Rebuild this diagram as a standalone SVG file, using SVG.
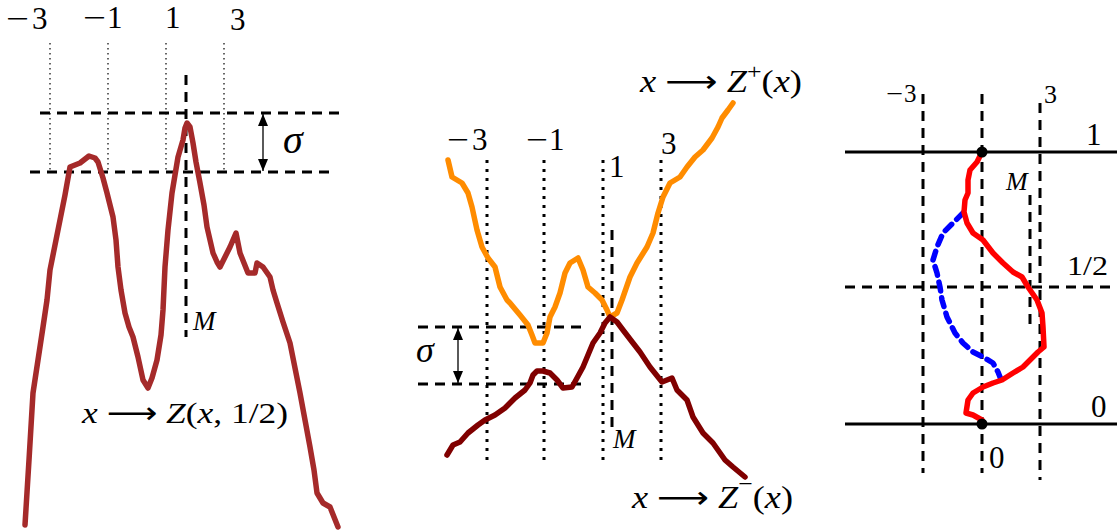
<svg xmlns="http://www.w3.org/2000/svg" width="1119" height="531" viewBox="0 0 1119 531">
<style>
text{font-family:"Liberation Serif","DejaVu Serif",serif;fill:#000}
.it{font-style:italic}
.ar{font-family:"DejaVu Sans",sans-serif}
.dash{stroke:#000;stroke-width:3;fill:none;stroke-dasharray:10 7}
.thindot{stroke:#000;stroke-width:1.2;fill:none;stroke-dasharray:1.5 3.5}
.dot{stroke:#000;stroke-width:3;fill:none;stroke-dasharray:3 6}
.solid{stroke:#000;stroke-width:3;fill:none}
.curve{fill:none;stroke-width:5.5;stroke-linejoin:round;stroke-linecap:round}
.arr{stroke:#000;stroke-width:1.3;fill:none;marker-start:url(#ah);marker-end:url(#ah)}
</style>
<defs>
<marker id="ah" viewBox="0 0 12 10" refX="12" refY="5" markerWidth="12" markerHeight="10" markerUnits="userSpaceOnUse" orient="auto-start-reverse">
<path d="M0,0 L12,5 L0,10 Z" fill="#000"/>
</marker>
</defs>

<g id="left-panel">
<line class="thindot" x1="50" y1="43" x2="50" y2="172"/>
<line class="thindot" x1="108" y1="43" x2="108" y2="172"/>
<line class="thindot" x1="166" y1="43" x2="166" y2="172"/>
<line class="thindot" x1="224" y1="43" x2="224" y2="172"/>
<line class="dash" x1="40" y1="113" x2="340" y2="113"/>
<line class="dash" x1="30" y1="172" x2="332" y2="172"/>
<line class="dash" x1="186" y1="75" x2="186" y2="337"/>
<polyline class="curve" stroke="#a52a2a" points="25,525 29,460 33,393 38,360 43,327 47,300 50,270 55,245 60,220 65,195 70,167 80,163 89,156 95,158 98,162 103,178 107,193 113,217 116,240 118,267 121,290 125,313 129,327 133,337 138,357 143,380 148,388 152,378 157,360 161,335 163,310 165,267 168,230 172,193 178,157 183,140 185,128 187,123 190,127 193,143 196,162 200,183 204,205 207,227 213,253 217,262 220,267 225,257 230,247 236,233 240,253 244,263 248,273 255,273 257,263 263,267 270,277 273,290 277,303 283,322 290,343 295,368 300,393 305,420 310,447 314,470 317,493 323,503 330,507 338,527"/>
<text x="6" y="29" font-size="31" textLength="23" lengthAdjust="spacingAndGlyphs">−</text>
<text x="32" y="29" font-size="31">3</text>
<text x="83" y="28" font-size="31" textLength="23" lengthAdjust="spacingAndGlyphs">−</text>
<text x="107" y="28" font-size="31">1</text>
<text x="165" y="28" font-size="31">1</text>
<text x="230" y="30" font-size="31">3</text>
<text class="it" x="283" y="153" font-size="40">σ</text>
<text class="it" x="193" y="330" font-size="27">M</text>
<text x="82" y="423" font-size="30" textLength="206" lengthAdjust="spacingAndGlyphs"><tspan class="it">x</tspan> <tspan class="ar">⟶</tspan> <tspan class="it">Z</tspan>(<tspan class="it">x</tspan>, 1/2)</text>
</g>

<g id="middle-panel">
<line class="dot" x1="487" y1="160" x2="487" y2="462"/>
<line class="dot" x1="544" y1="160" x2="544" y2="462"/>
<line class="dot" x1="603" y1="160" x2="603" y2="462"/>
<line class="dot" x1="661" y1="160" x2="661" y2="462"/>
<line class="dash" x1="612" y1="230" x2="612" y2="433"/>
<line class="dash" x1="418" y1="327" x2="583" y2="327"/>
<line class="dash" x1="418" y1="384" x2="583" y2="384"/>
<polyline class="curve" stroke="#ff8c00" points="448,160 452,177 462,183 468,193 472,207 477,230 482,247 488,258 495,267 500,287 507,300 510,303 520,315 528,325 532,335 535,343 543,343 547,333 550,317 555,307 560,293 565,273 570,263 578,258 583,270 588,287 595,293 602,300 607,310 610,317 617,313 622,300 630,277 637,263 647,247 653,233 658,213 663,197 670,183 680,177 687,167 695,157 703,150 712,138 718,127 722,118 728,110 733,103"/>
<polyline class="curve" stroke="#800000" points="447,455 453,445 460,442 468,433 478,425 485,420 495,415 505,408 515,398 525,390 530,383 533,375 537,371 543,371 550,373 557,380 563,388 572,387 577,378 583,367 588,355 593,343 600,333 605,323 610,317 617,322 623,330 633,343 640,352 650,367 662,382 672,378 677,390 687,400 693,417 703,433 713,443 725,460 733,467 745,477"/>
<text x="447" y="150" font-size="31" textLength="22" lengthAdjust="spacingAndGlyphs">−</text>
<text x="472" y="150" font-size="31">3</text>
<text x="526" y="150" font-size="31" textLength="22" lengthAdjust="spacingAndGlyphs">−</text>
<text x="549" y="150" font-size="31">1</text>
<text x="609" y="177" font-size="31">1</text>
<text x="661" y="154" font-size="31">3</text>
<text class="it" x="416" y="362" font-size="36">σ</text>
<text class="it" x="613" y="448" font-size="27">M</text>
<text x="640" y="92" font-size="31" textLength="162" lengthAdjust="spacingAndGlyphs"><tspan class="it">x</tspan> <tspan class="ar">⟶</tspan> <tspan class="it">Z</tspan><tspan font-size="22" dy="-13">+</tspan><tspan dy="13">(</tspan><tspan class="it">x</tspan>)</text>
<text x="632" y="508" font-size="31" textLength="161" lengthAdjust="spacingAndGlyphs"><tspan class="it">x</tspan> <tspan class="ar">⟶</tspan> <tspan class="it">Z</tspan><tspan font-size="22" dy="-17">−</tspan><tspan dy="17">(</tspan><tspan class="it">x</tspan>)</text>
</g>

<g id="right-panel">
<line class="dash" x1="923" y1="94" x2="923" y2="473"/>
<line class="dash" x1="982" y1="94" x2="982" y2="473"/>
<line class="dash" x1="1040" y1="103" x2="1040" y2="480"/>
<line class="dash" x1="1030" y1="195" x2="1030" y2="327"/>
<line class="dash" x1="845" y1="287" x2="1110" y2="287"/>
<line class="solid" x1="845" y1="152" x2="1117" y2="152"/>
<line class="solid" x1="845" y1="424" x2="1117" y2="424"/>
<polyline class="curve" stroke="#0000ff" stroke-dasharray="9 7" stroke-linecap="butt" points="963,213 953,223 943,233 937,247 933,260 937,273 940,287 942,300 947,317 955,333 963,343 973,352 983,357 993,363 998,372 1002,382"/>
<polyline class="curve" stroke="#ff0000" points="982,152 977,162 970,170 968,180 968,193 965,200 964,212 967,223 973,233 983,240 993,253 1003,263 1013,272 1022,277 1028,287 1037,300 1042,313 1043,327 1044,347 1038,352 1032,358 1023,367 1013,373 1002,380 993,383 983,387 973,393 968,400 966,413 973,415 982,420"/>
<circle cx="982" cy="152" r="5.5" fill="#000"/>
<circle cx="982" cy="424" r="5.5" fill="#000"/>
<text x="886" y="102" font-size="25" textLength="17" lengthAdjust="spacingAndGlyphs">−</text>
<text x="904" y="102" font-size="25">3</text>
<text x="1044" y="103" font-size="26">3</text>
<text x="1086" y="145" font-size="31">1</text>
<text x="1067" y="275" font-size="27" textLength="41" lengthAdjust="spacingAndGlyphs">1/2</text>
<text x="1091" y="417" font-size="31">0</text>
<text x="989" y="468" font-size="31">0</text>
<text class="it" x="1006" y="190" font-size="26">M</text>
</g>

<g id="connectors">
<line class="arr" x1="263" y1="114" x2="263" y2="171"/>
<line class="arr" x1="458" y1="328" x2="458" y2="383"/>
</g>
</svg>
